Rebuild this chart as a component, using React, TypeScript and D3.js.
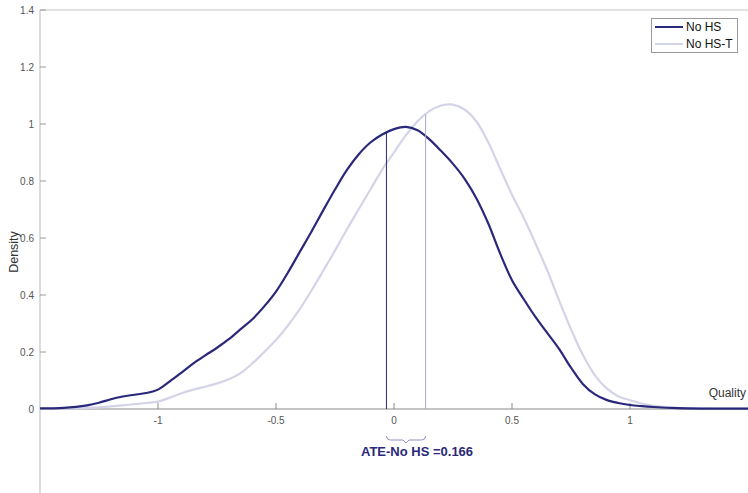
import * as d3 from 'd3';

// Quality grid shared by both density curves
const quality = [
  -1.5, -1.4, -1.3, -1.25, -1.2, -1.15, -1.1, -1.05, -1.0, -0.95, -0.9, -0.85, -0.8, -0.75,
  -0.7, -0.65, -0.6, -0.55, -0.5, -0.45, -0.4, -0.35, -0.3, -0.25, -0.2, -0.15, -0.1, -0.05,
  0, 0.05, 0.1, 0.15, 0.2, 0.25, 0.3, 0.35, 0.4, 0.45, 0.5, 0.55, 0.6, 0.65, 0.7, 0.75, 0.8,
  0.85, 0.9, 0.95, 1.0, 1.05, 1.1, 1.2, 1.3, 1.5,
];

const noHS = [
  0.002, 0.004, 0.013, 0.022, 0.034, 0.044, 0.05, 0.056, 0.068, 0.097, 0.128, 0.16, 0.188, 0.215,
  0.245, 0.28, 0.315, 0.36, 0.412, 0.478, 0.55, 0.622, 0.697, 0.77, 0.838, 0.893, 0.935, 0.963,
  0.982, 0.99, 0.978, 0.946, 0.905, 0.86, 0.807, 0.738, 0.65, 0.545, 0.452, 0.385, 0.322, 0.266, 0.21, 0.145, 0.088,
  0.052, 0.032, 0.021, 0.014, 0.01, 0.007, 0.003, 0.0015, 0.001,
];

const noHST = [
  0.001, 0.002, 0.004, 0.006, 0.009, 0.013, 0.017, 0.021, 0.026, 0.04, 0.055, 0.068, 0.078, 0.09,
  0.104, 0.126, 0.16, 0.2, 0.242, 0.292, 0.35, 0.415, 0.485, 0.556, 0.63, 0.7, 0.77, 0.84,
  0.9, 0.96, 1.01, 1.045, 1.065, 1.068, 1.05, 1.008, 0.935, 0.842, 0.752, 0.67, 0.58, 0.485, 0.38, 0.28, 0.19,
  0.12, 0.073, 0.045, 0.031, 0.019, 0.011, 0.004, 0.002, 0.001,
];

const seriesNames = ['No HS', 'No HS-T'];
const seriesMeans = [-0.032, 0.134];
const ate = 0.166;

const xTicks = [-1, -0.5, 0, 0.5, 1];
const yTicks = [0, 0.2, 0.4, 0.6, 0.8, 1, 1.2, 1.4];

const W = 748;
const H = 493;
const navy = '#29287a';
const lilac = '#d4d4e8';
const font = 'Helvetica, Arial, "Liberation Sans", sans-serif';

function valueAt(xs: number[], ys: number[], x: number) {
  const i = d3.bisectLeft(xs, x);
  if (i <= 0) return ys[0];
  if (i >= xs.length) return ys[ys.length - 1];
  const t = (x - xs[i - 1]) / (xs[i] - xs[i - 1]);
  return ys[i - 1] + t * (ys[i] - ys[i - 1]);
}

export default function App() {
  const x = d3.scaleLinear().domain([-1.5, 1.5]).range([40, 748]);
  const y = d3.scaleLinear().domain([-0.3, 1.4]).range([494.5, 10]);

  const line = d3
    .line<number>()
    .x((_, i) => x(quality[i]))
    .y((d) => y(d))
    .curve(d3.curveCatmullRom.alpha(0.5));

  const series = [
    { name: seriesNames[0], values: noHS, color: navy, vline: navy },
    { name: seriesNames[1], values: noHST, color: lilac, vline: '#a9a9d0' },
  ];

  const m1 = x(seriesMeans[0]);
  const m2 = x(seriesMeans[1]);
  const mid = (m1 + m2) / 2;
  const by = 440;

  return (
    <svg
      width={W}
      height={H}
      style={{ position: 'absolute', left: 0, top: 0, display: 'block', background: '#fff' }}
      fontFamily={font}
    >
      {/* box top + y axis */}
      <line x1={40} x2={W} y1={10} y2={10} stroke="#c4c4c4" />
      <line x1={40} x2={40} y1={10} y2={H} stroke="#c4c4c4" strokeWidth={1.2} />
      {yTicks.map((t) => (
        <g key={t}>
          <line x1={40} x2={46} y1={y(t)} y2={y(t)} stroke="#9a9a9a" />
          <text x={34} y={y(t)} dy="0.35em" textAnchor="end" fontSize={10} fill="#555">
            {t}
          </text>
        </g>
      ))}
      <text
        transform={`translate(18,252) rotate(-90)`}
        textAnchor="middle"
        fontSize={12.5}
        fill="#333"
      >
        Density
      </text>

      {/* x axis at zero */}
      <line x1={40} x2={W} y1={y(0)} y2={y(0)} stroke="#8a8a8a" />
      {xTicks.map((t) => (
        <g key={t}>
          <line x1={x(t)} x2={x(t)} y1={y(0) - 6} y2={y(0)} stroke="#8a8a8a" />
          <text x={x(t)} y={y(0) + 15} textAnchor="middle" fontSize={10} fill="#555">
            {t}
          </text>
        </g>
      ))}
      <text x={746} y={397} textAnchor="end" fontSize={12} fill="#333">
        Quality
      </text>

      {/* density curves, lighter one underneath */}
      {[...series].reverse().map((s) => (
        <path key={s.name} d={line(s.values) ?? ''} fill="none" stroke={s.color} strokeWidth={2.2} />
      ))}

      {/* mean lines */}
      {series.map((s, i) => (
        <line
          key={s.name}
          x1={x(seriesMeans[i])}
          x2={x(seriesMeans[i])}
          y1={y(0)}
          y2={y(valueAt(quality, s.values, seriesMeans[i]))}
          stroke={s.vline}
          strokeWidth={1}
        />
      ))}

      {/* ATE bracket */}
      <path
        d={`M${m1},${by - 4} Q${m1},${by} ${m1 + 4},${by} L${mid - 3},${by} L${mid},${by + 3} L${mid + 3},${by} L${m2 - 4},${by} Q${m2},${by} ${m2},${by - 4}`}
        fill="none"
        stroke="#8f8fc2"
        strokeWidth={1}
      />
      <text x={mid + 11} y={456} textAnchor="middle" fontSize={13} fontWeight="bold" fill={navy}>
        {`ATE-No HS =${ate}`}
      </text>

      {/* legend */}
      <rect x={651.5} y={18.5} width={86} height={34} fill="#fff" stroke="#9a9a9a" />
      {series.map((s, i) => (
        <g key={s.name} transform={`translate(0,${27 + i * 17})`}>
          <line x1={655} x2={683} y1={0} y2={0} stroke={s.color} strokeWidth={2} />
          <text x={686} y={0} dy="0.35em" fontSize={12} fill="#111">
            {s.name}
          </text>
        </g>
      ))}
    </svg>
  );
}
